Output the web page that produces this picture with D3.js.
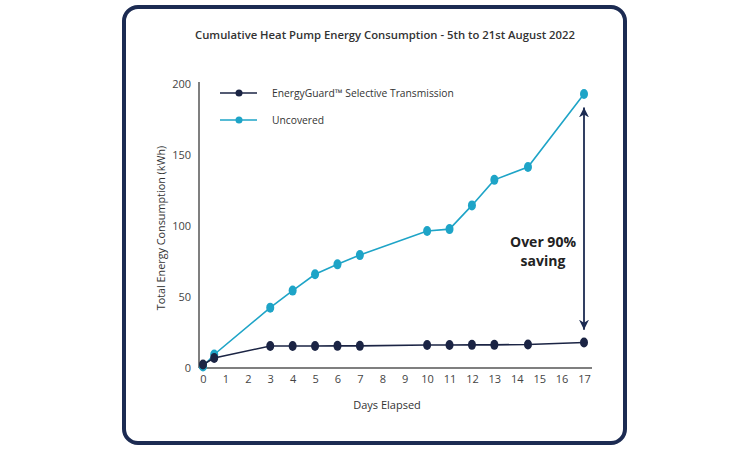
<!DOCTYPE html>
<html>
<head>
<meta charset="utf-8">
<script src="https://cdn.jsdelivr.net/npm/d3@7"></script>
<style>
  body { margin: 0; background: #fff; }
  text { font-family: "Open Sans", "Noto Sans", sans-serif; }
</style>
</head>
<body>
<div id="chart"></div>
<script>
var w = 750;
var h = 451;

// data
var days = [0, 0.5, 3, 4, 5, 6, 7, 10, 11, 12, 13, 14.5, 17];
var guarded = [2.5, 7, 15.5, 15.5, 15.5, 15.6, 15.6, 16.2, 16.2, 16.3, 16.3, 16.6, 18];
var uncovered = [1, 9.5, 42.5, 54.5, 66, 73, 79.5, 96.5, 97.8, 114.5, 132.5, 141.5, 193];
var xTicks = d3.range(0, 18);
var yTicks = [0, 50, 100, 150, 200];
var seriesNames = ["EnergyGuard\u2122 Selective Transmission", "Uncovered"];
var seriesColors = ["#1b2444", "#1ea4c7"];

var svg = d3.select("#chart")
    .append("svg")
    .attr("width", w)
    .attr("height", h);

// frame
svg.append("rect")
    .attr("x", 124).attr("y", 7)
    .attr("width", 501).attr("height", 436)
    .attr("rx", 14)
    .attr("fill", "#fff")
    .attr("stroke", "#1c2b52")
    .attr("stroke-width", 4);

svg.append("text")
    .attr("x", 385).attr("y", 39)
    .attr("text-anchor", "middle")
    .attr("fill", "#333")
    .style("font-size", "11.3px")
    .style("font-weight", 600)
    .text("Cumulative Heat Pump Energy Consumption - 5th to 21st August 2022");

var x = d3.scaleLinear().domain([0, 17]).range([203, 584]);
var y = d3.scaleLinear().domain([0, 200]).range([368, 84]);

// axes lines
svg.append("line")
    .attr("x1", x(0) - 4).attr("x2", x(0) - 4)
    .attr("y1", y(200) - 2).attr("y2", y(0))
    .attr("stroke", "#555").attr("stroke-width", 1.5);
svg.append("line")
    .attr("x1", x(0) - 4).attr("x2", x(17) + 8)
    .attr("y1", y(0)).attr("y2", y(0))
    .attr("stroke", "#555").attr("stroke-width", 1.5);

var xAxis = svg.append("g")
    .attr("transform", "translate(0," + (y(0) + 4) + ")")
    .call(d3.axisBottom(x).tickValues(xTicks).tickSize(0).tickPadding(3).tickFormat(d3.format("d")));
xAxis.select(".domain").remove();
xAxis.selectAll("text").attr("fill", "#444").style("font-size", "11px");

var yAxis = svg.append("g")
    .attr("transform", "translate(" + (x(0) - 12) + ",0)")
    .call(d3.axisLeft(y).tickValues(yTicks).tickSize(0).tickPadding(0));
yAxis.select(".domain").remove();
yAxis.selectAll("text").attr("fill", "#444").style("font-size", "11px");

svg.append("text")
    .attr("transform", "translate(165,228) rotate(-90)")
    .attr("text-anchor", "middle")
    .attr("fill", "#333")
    .style("font-size", "10.8px")
    .text("Total Energy Consumption (kWh)");

svg.append("text")
    .attr("x", 387).attr("y", 409)
    .attr("text-anchor", "middle")
    .attr("fill", "#333")
    .style("font-size", "11px")
    .text("Days Elapsed");

var line = d3.line()
    .x(function(d) { return x(d[0]); })
    .y(function(d) { return y(d[1]); });

function drawSeries(values, color) {
    var pts = days.map(function(d, i) { return [d, values[i]]; });
    svg.append("path")
        .datum(pts)
        .attr("d", line)
        .attr("fill", "none")
        .attr("stroke", color)
        .attr("stroke-width", 1.6);
    svg.selectAll(null)
        .data(pts)
        .join("ellipse")
        .attr("cx", function(d) { return x(d[0]); })
        .attr("cy", function(d) { return y(d[1]); })
        .attr("rx", 4)
        .attr("ry", 5)
        .attr("fill", color);
}
drawSeries(uncovered, seriesColors[1]);
drawSeries(guarded, seriesColors[0]);

// legend
seriesNames.forEach(function(name, i) {
    var ly = 93 + i * 27;
    svg.append("line")
        .attr("x1", 220).attr("x2", 257)
        .attr("y1", ly).attr("y2", ly)
        .attr("stroke", seriesColors[i]).attr("stroke-width", 1.6);
    svg.append("circle")
        .attr("cx", 239).attr("cy", ly).attr("r", 3.5)
        .attr("fill", seriesColors[i]);
    svg.append("text")
        .attr("x", 272).attr("y", ly + 4)
        .attr("fill", "#333")
        .style("font-size", "10.3px")
        .text(name);
});

// saving arrow
var arrowColor = "#1c2b52";
svg.append("defs").append("marker")
    .attr("id", "head")
    .attr("viewBox", "0 0 10 10")
    .attr("refX", 10).attr("refY", 5)
    .attr("markerWidth", 10).attr("markerHeight", 10)
    .attr("markerUnits", "userSpaceOnUse")
    .attr("orient", "auto-start-reverse")
    .append("path")
    .attr("d", "M0,0 L10,5 L0,10 L3,5 Z")
    .attr("fill", arrowColor);
svg.append("line")
    .attr("x1", x(17)).attr("x2", x(17))
    .attr("y1", y(183.5)).attr("y2", y(27))
    .attr("stroke", arrowColor).attr("stroke-width", 1.8)
    .attr("marker-start", "url(#head)")
    .attr("marker-end", "url(#head)");

svg.append("text")
    .attr("x", 543).attr("y", 247)
    .attr("text-anchor", "middle")
    .attr("fill", "#222")
    .style("font-size", "14px")
    .style("font-weight", 700)
    .text("Over 90%");
svg.append("text")
    .attr("x", 543).attr("y", 266)
    .attr("text-anchor", "middle")
    .attr("fill", "#222")
    .style("font-size", "14px")
    .style("font-weight", 700)
    .text("saving");
</script>
</body>
</html>
